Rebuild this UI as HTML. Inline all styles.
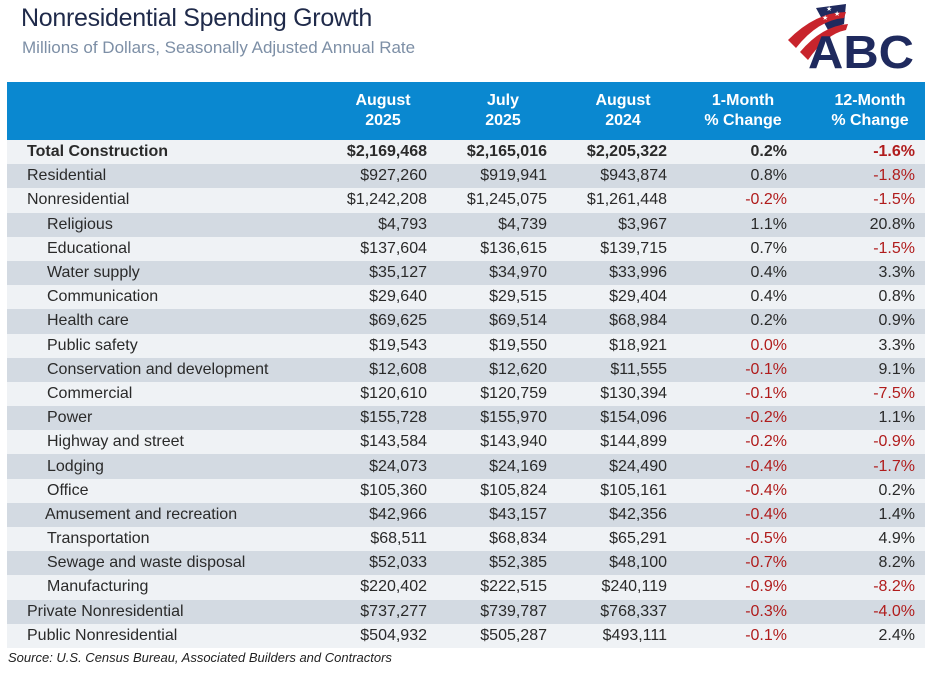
<!DOCTYPE html>
<html><head><meta charset="utf-8"><style>
body{margin:0;width:936px;height:673px;background:#fff;font-family:"Liberation Sans",Arial,sans-serif;position:relative;overflow:hidden}
.t{position:absolute;left:21px;top:4px;font-size:25px;color:#1f2a4a;letter-spacing:-0.3px}
.s{position:absolute;left:22px;top:38px;font-size:17px;color:#7d8fa6}
table{position:absolute;left:7px;top:82px;width:918px;border-collapse:collapse;table-layout:fixed;font-size:16px;color:#2a2a2a}
th{background:#0a88d0;color:#fff;font-weight:bold;height:58px;line-height:20px;text-align:center;padding:0 0 0 24px;font-size:16px;white-space:nowrap;overflow:hidden}
th:first-child{padding:0}
td{height:24.2px;line-height:24px;padding:0 4px 0 0;text-align:right;white-space:nowrap;overflow:hidden}
tr:nth-child(odd) td{background:#d3dae2}
tr:nth-child(even) td{background:#eff2f5}
td:first-child{text-align:left;padding-left:20px}
td.i{padding-left:40px}
td.r{color:#b01c1c}
tr.b td{font-weight:bold}
td:last-child{padding-right:10px}
.src{position:absolute;left:8px;top:650px;font-size:13px;font-style:italic;color:#222}
</style></head><body>
<div class="t">Nonresidential Spending Growth</div>
<div class="s">Millions of Dollars, Seasonally Adjusted Annual Rate</div>
<svg style="position:absolute;left:786px;top:2px" width="132" height="70" viewBox="0 0 132 70">
<path d="M30 6 L60 2 L58 22 L42 28 Z" fill="#1f2a5e"/>
<path d="M2 38 Q30 10 60 10 L58 16 Q32 18 10 46 Z" fill="#c8242c"/>
<path d="M14 50 Q36 24 62 22 L60 28 Q40 32 22 58 Z" fill="#c8242c"/>
<text x="40" y="9" fill="#fff" font-size="7">★</text><text x="48" y="14" fill="#fff" font-size="7">★</text><text x="36" y="18" fill="#fff" font-size="7">★</text>
<text x="22" y="66" font-family="Liberation Sans" font-weight="bold" font-size="46" fill="#1f2a5e" textLength="106" lengthAdjust="spacingAndGlyphs">ABC</text>
</svg>
<table>
<colgroup><col style="width:304px"><col style="width:120px"><col style="width:120px"><col style="width:120px"><col style="width:120px"><col style="width:134px"></colgroup>
<tr><th></th><th>August<br>2025</th><th>July<br>2025</th><th>August<br>2024</th><th>1-Month<br>% Change</th><th>12-Month<br>% Change</th></tr>
<tr class="b"><td>Total Construction</td><td>$2,169,468</td><td>$2,165,016</td><td>$2,205,322</td><td>0.2%</td><td class="r">-1.6%</td></tr>
<tr><td>Residential</td><td>$927,260</td><td>$919,941</td><td>$943,874</td><td>0.8%</td><td class="r">-1.8%</td></tr>
<tr><td>Nonresidential</td><td>$1,242,208</td><td>$1,245,075</td><td>$1,261,448</td><td class="r">-0.2%</td><td class="r">-1.5%</td></tr>
<tr><td class="i">Religious</td><td>$4,793</td><td>$4,739</td><td>$3,967</td><td>1.1%</td><td>20.8%</td></tr>
<tr><td class="i">Educational</td><td>$137,604</td><td>$136,615</td><td>$139,715</td><td>0.7%</td><td class="r">-1.5%</td></tr>
<tr><td class="i">Water supply</td><td>$35,127</td><td>$34,970</td><td>$33,996</td><td>0.4%</td><td>3.3%</td></tr>
<tr><td class="i">Communication</td><td>$29,640</td><td>$29,515</td><td>$29,404</td><td>0.4%</td><td>0.8%</td></tr>
<tr><td class="i">Health care</td><td>$69,625</td><td>$69,514</td><td>$68,984</td><td>0.2%</td><td>0.9%</td></tr>
<tr><td class="i">Public safety</td><td>$19,543</td><td>$19,550</td><td>$18,921</td><td class="r">0.0%</td><td>3.3%</td></tr>
<tr><td class="i">Conservation and development</td><td>$12,608</td><td>$12,620</td><td>$11,555</td><td class="r">-0.1%</td><td>9.1%</td></tr>
<tr><td class="i">Commercial</td><td>$120,610</td><td>$120,759</td><td>$130,394</td><td class="r">-0.1%</td><td class="r">-7.5%</td></tr>
<tr><td class="i">Power</td><td>$155,728</td><td>$155,970</td><td>$154,096</td><td class="r">-0.2%</td><td>1.1%</td></tr>
<tr><td class="i">Highway and street</td><td>$143,584</td><td>$143,940</td><td>$144,899</td><td class="r">-0.2%</td><td class="r">-0.9%</td></tr>
<tr><td class="i">Lodging</td><td>$24,073</td><td>$24,169</td><td>$24,490</td><td class="r">-0.4%</td><td class="r">-1.7%</td></tr>
<tr><td class="i">Office</td><td>$105,360</td><td>$105,824</td><td>$105,161</td><td class="r">-0.4%</td><td>0.2%</td></tr>
<tr><td class="i" style="padding-left:38px">Amusement and recreation</td><td>$42,966</td><td>$43,157</td><td>$42,356</td><td class="r">-0.4%</td><td>1.4%</td></tr>
<tr><td class="i">Transportation</td><td>$68,511</td><td>$68,834</td><td>$65,291</td><td class="r">-0.5%</td><td>4.9%</td></tr>
<tr><td class="i">Sewage and waste disposal</td><td>$52,033</td><td>$52,385</td><td>$48,100</td><td class="r">-0.7%</td><td>8.2%</td></tr>
<tr><td class="i">Manufacturing</td><td>$220,402</td><td>$222,515</td><td>$240,119</td><td class="r">-0.9%</td><td class="r">-8.2%</td></tr>
<tr><td>Private Nonresidential</td><td>$737,277</td><td>$739,787</td><td>$768,337</td><td class="r">-0.3%</td><td class="r">-4.0%</td></tr>
<tr><td>Public Nonresidential</td><td>$504,932</td><td>$505,287</td><td>$493,111</td><td class="r">-0.1%</td><td>2.4%</td></tr>
</table>
<div class="src">Source: U.S. Census Bureau, Associated Builders and Contractors</div>
</body></html>
